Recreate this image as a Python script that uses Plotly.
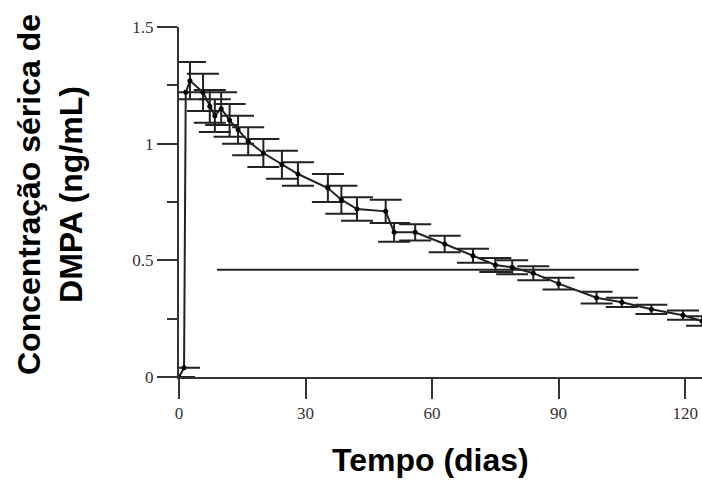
import plotly.graph_objects as go

# Data
days = [0, 1.2, 1.6, 2.6, 5.7, 7.3, 8.5, 10, 12, 14, 16.4, 20, 24.4, 28.2,
        35.3, 38.5, 42.2, 49, 51, 56, 63, 69.7, 75, 79, 84, 90, 99, 105,
        112, 119.5, 124]
conc = [0.0, 0.04, 1.22, 1.27, 1.22, 1.16, 1.12, 1.15, 1.10, 1.06, 1.01,
        0.96, 0.91, 0.87, 0.81, 0.76, 0.72, 0.71, 0.62, 0.62, 0.57, 0.52,
        0.48, 0.47, 0.445, 0.40, 0.34, 0.32, 0.29, 0.265, 0.24]
conc_sd = [0, 0, 0, 0.08, 0.08, 0.07, 0.07, 0.07, 0.07, 0.06, 0.06, 0.06,
           0.06, 0.05, 0.06, 0.06, 0.05, 0.05, 0.04, 0.035, 0.035, 0.03,
           0.03, 0.03, 0.03, 0.025, 0.025, 0.02, 0.02, 0.02, 0.02]

# Long horizontal bar
bar_days = [9, 109]
bar_conc = [0.46, 0.46]

x_ticks = [0, 30, 60, 90, 120]
y_ticks = [0, 0.5, 1, 1.5]
y_ticklabels = ["0", "0.5", "1", "1.5"]

x_title = "Tempo (dias)"
y_title = "Concentração sérica de<br>DMPA (ng/mL)"

ink = "#222222"

fig = go.Figure()
fig.add_trace(go.Scatter(
    x=bar_days, y=bar_conc, mode="lines",
    line=dict(color=ink, width=2), showlegend=False, hoverinfo="skip"))
fig.add_trace(go.Scatter(
    x=days, y=conc, mode="lines+markers",
    line=dict(color=ink, width=2),
    marker=dict(color="black", size=5),
    error_y=dict(type="data", array=conc_sd, visible=True,
                 color=ink, thickness=2, width=16),
    showlegend=False))

W, H = 702, 483
L, T = 179, 27
pw = 702 - 179          # plot width in px
ph = 377 - 27           # plot height in px
R = W - L - pw
B = H - T - ph

def px_x(p):
    return (p - L) / pw

def px_y(p):
    return (T + ph - p) / ph

fig.update_layout(
    width=W, height=H,
    margin=dict(l=L, r=R, t=T, b=B),
    paper_bgcolor="white", plot_bgcolor="white",
    xaxis=dict(range=[0, 124], tickvals=x_ticks, showgrid=False,
               zeroline=False, showline=True, linecolor="#333333",
               linewidth=2, ticks="outside", ticklen=20, tickwidth=2,
               tickcolor="#333333",
               tickfont=dict(family="Liberation Serif", size=17,
                             color="#333333")),
    yaxis=dict(range=[0, 1.5], tickvals=y_ticks, ticktext=y_ticklabels,
               showgrid=False, zeroline=False, showline=True,
               linecolor="#333333", linewidth=2, ticks="outside",
               ticklen=20, tickwidth=2, tickcolor="#333333",
               minor=dict(dtick=0.25, ticks="outside", ticklen=10,
                          tickwidth=2, tickcolor="#333333", showgrid=False),
               tickfont=dict(family="Liberation Serif", size=17,
                             color="#333333")),
    annotations=[
        dict(text=x_title, xref="paper", yref="paper",
             x=px_x(430), y=px_y(460), xanchor="center", yanchor="middle",
             showarrow=False,
             font=dict(family="Liberation Sans", size=32, color="black",
                       weight="bold")),
        dict(text=y_title, xref="paper", yref="paper",
             x=px_x(50), y=px_y(195), xanchor="center", yanchor="middle",
             textangle=-90, showarrow=False,
             font=dict(family="Liberation Sans", size=32, color="black",
                       weight="bold")),
    ],
)

fig.write_html(
    "out.html",
    config={"displayModeBar": False},
    post_script="document.body.style.margin='0';"
                "document.body.style.overflow='hidden';",
)
